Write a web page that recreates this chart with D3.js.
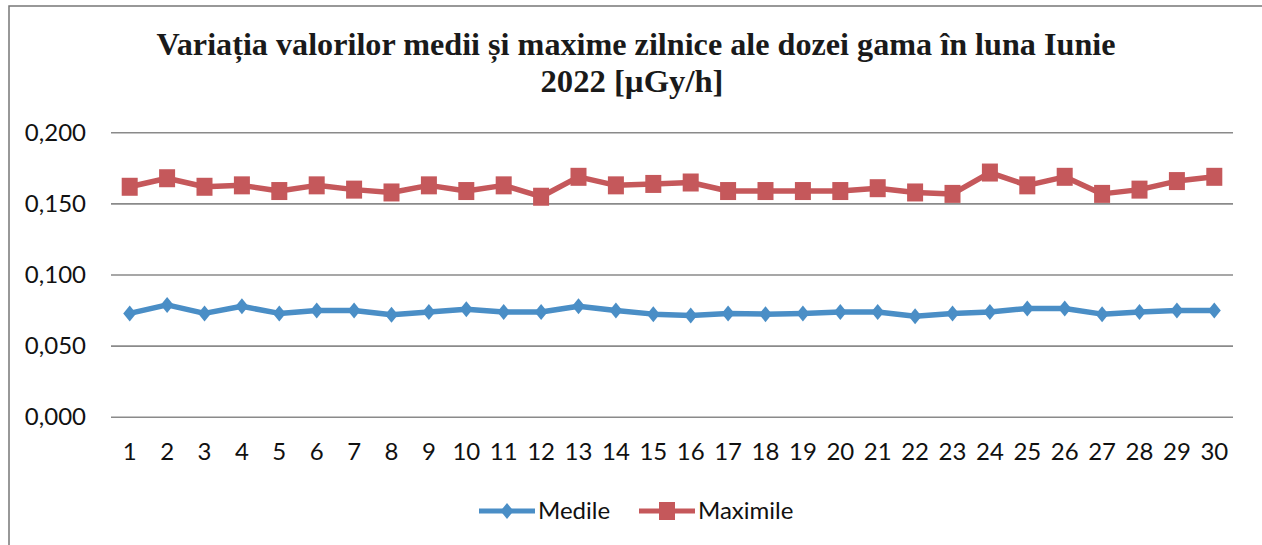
<!DOCTYPE html>
<html>
<head>
<meta charset="utf-8">
<script src="https://cdn.jsdelivr.net/npm/d3@7"></script>
<style>
  html, body { margin: 0; padding: 0; background: #fff; }
  svg { display: block; }
</style>
</head>
<body>
<svg id="chart" width="1262" height="545"></svg>
<script>
const days = d3.range(1, 31).map(String);
const medile = [0.073, 0.079, 0.073, 0.078, 0.073, 0.075, 0.075, 0.072, 0.074, 0.076,
  0.074, 0.074, 0.078, 0.075, 0.0725, 0.0715, 0.073, 0.0725, 0.073, 0.074,
  0.074, 0.071, 0.073, 0.074, 0.0765, 0.0765, 0.0725, 0.074, 0.075, 0.075];
const maximile = [0.162, 0.168, 0.162, 0.163, 0.159, 0.163, 0.160, 0.158, 0.163, 0.159,
  0.163, 0.155, 0.169, 0.163, 0.164, 0.165, 0.159, 0.159, 0.159, 0.159,
  0.161, 0.158, 0.157, 0.172, 0.163, 0.169, 0.157, 0.160, 0.166, 0.169];
const yTicks = [0, 0.05, 0.1, 0.15, 0.2];
const titleLines = ["Variația valorilor medii și maxime zilnice ale dozei gama în luna Iunie", "2022 [µGy/h]"];

const blue = "#4a8ec6";
const red = "#c5585b";
const svg = d3.select("#chart");

// frame of the scanned chart box
svg.append("path")
  .attr("d", "M9,560 L9,6 L1262,6")
  .attr("fill", "none")
  .attr("stroke", "#777")
  .attr("stroke-width", 1.5);

const x = d3.scaleBand().domain(days).range([111, 1233]);
const y = d3.scaleLinear().domain([0, 0.2]).range([417.3, 132.7]);
const fmt = (v) => d3.format(".3f")(v).replace(".", ",");

// title (the scan is a bit condensed, so squeeze the glyphs to the measured width)
const title = svg.append("g")
  .attr("font-family", "'Liberation Serif', 'Times New Roman', serif")
  .attr("font-weight", "bold")
  .attr("font-size", 31)
  .attr("fill", "#1a1a1a")
  .attr("text-anchor", "middle");
title.append("text").attr("x", 636).attr("y", 55)
  .attr("textLength", 959).attr("lengthAdjust", "spacingAndGlyphs")
  .text(titleLines[0]);
title.append("text").attr("x", 632).attr("y", 92)
  .attr("textLength", 183).attr("lengthAdjust", "spacingAndGlyphs")
  .text(titleLines[1]);

// grid
svg.append("g")
  .selectAll("line")
  .data(yTicks)
  .join("line")
  .attr("x1", 111).attr("x2", 1233)
  .attr("y1", (d) => y(d)).attr("y2", (d) => y(d))
  .attr("stroke", "#8a8a8a")
  .attr("stroke-width", 1.6);

// y axis labels
svg.append("g")
  .attr("font-family", "Lato, sans-serif")
  .attr("font-size", 24)
  .attr("fill", "#111")
  .attr("text-anchor", "end")
  .selectAll("text")
  .data(yTicks)
  .join("text")
  .attr("x", 86)
  .attr("y", (d) => y(d) + 8)
  .text(fmt);

// x axis labels
svg.append("g")
  .attr("font-family", "Lato, sans-serif")
  .attr("font-size", 24)
  .attr("fill", "#111")
  .attr("text-anchor", "middle")
  .selectAll("text")
  .data(days)
  .join("text")
  .attr("x", (d) => x(d) + x.bandwidth() / 2)
  .attr("y", 460)
  .text((d) => d);

const cx = (i) => x(days[i]) + x.bandwidth() / 2;
const line = d3.line().x((d, i) => cx(i)).y((d) => y(d));
const diamond = "M0,-8 L6.5,0 L0,8 L-6.5,0 Z";

function drawSeries(values, color, marker) {
  const g = svg.append("g");
  g.append("path")
    .datum(values)
    .attr("d", line)
    .attr("fill", "none")
    .attr("stroke", color)
    .attr("stroke-width", 5.5)
    .attr("stroke-linejoin", "round");
  if (marker === "diamond") {
    g.selectAll("path.m").data(values).join("path")
      .attr("class", "m")
      .attr("d", diamond)
      .attr("transform", (d, i) => `translate(${cx(i)},${y(d)})`)
      .attr("fill", color);
  } else {
    g.selectAll("rect").data(values).join("rect")
      .attr("x", (d, i) => cx(i) - 8)
      .attr("y", (d) => y(d) - 9)
      .attr("width", 16).attr("height", 18)
      .attr("fill", color);
  }
}

drawSeries(maximile, red, "square");
drawSeries(medile, blue, "diamond");

// legend
const legend = svg.append("g")
  .attr("font-family", "Lato, sans-serif")
  .attr("font-size", 24)
  .attr("fill", "#111");
legend.append("line").attr("x1", 479).attr("x2", 535).attr("y1", 511).attr("y2", 511)
  .attr("stroke", blue).attr("stroke-width", 5);
legend.append("path").attr("d", diamond).attr("transform", "translate(507,511)").attr("fill", blue);
legend.append("text").attr("x", 538).attr("y", 519).text("Medile");
legend.append("line").attr("x1", 639).attr("x2", 695).attr("y1", 511).attr("y2", 511)
  .attr("stroke", red).attr("stroke-width", 5);
legend.append("rect").attr("x", 659).attr("y", 502).attr("width", 16).attr("height", 18).attr("fill", red);
legend.append("text").attr("x", 698).attr("y", 519).text("Maximile");
</script>
</body>
</html>
